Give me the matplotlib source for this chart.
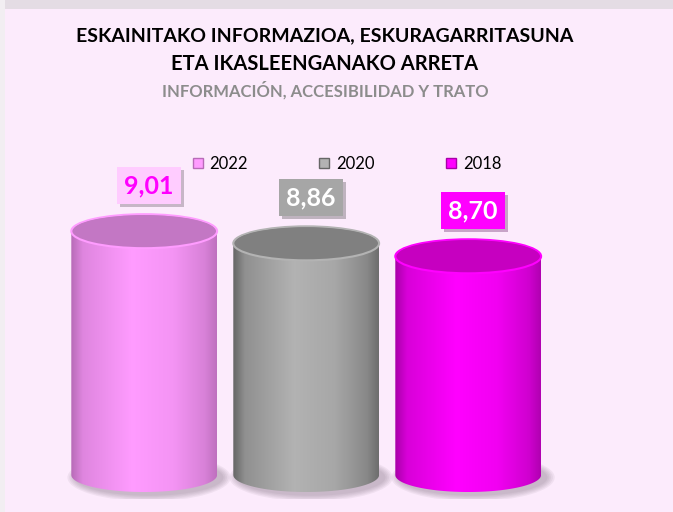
import numpy as np
import matplotlib
matplotlib.use("Agg")
import matplotlib.pyplot as plt
from matplotlib.patches import Ellipse, Polygon, Patch, Rectangle
import matplotlib.patheffects as pe

plt.rcParams['font.family'] = ['Lato', 'DejaVu Sans']

# data
years = ["2022", "2020", "2018"]
values = [9.01, 8.86, 8.70]
labels = ["9,01", "8,86", "8,70"]

# colours per bar: dark edge, light middle, top face, label box, label text
dark = [(0.72, 0.42, 0.72), (0.40, 0.40, 0.40), (0.66, 0.0, 0.66)]
light = [(1.0, 0.61, 1.0), (0.70, 0.70, 0.70), (1.0, 0.0, 1.0)]
tops = ["#c377c4", "#808080", "#c600c0"]
box_fc = ["#ffccff", "#a6a6a6", "#ff00ff"]
box_tc = ["#ff00ff", "white", "white"]

bg = "#fcebfc"
base = 6.0
w = 0.90
ry = 0.21

fig = plt.figure(figsize=(6.73, 5.12), dpi=100)
fig.patch.set_facecolor(bg)

# light strip at the top / left edge (photo behind the slide)
fig.patches.append(Rectangle((0, 1 - 9 / 512), 1, 9 / 512, transform=fig.transFigure,
                             facecolor="#e4dce4", edgecolor="none", zorder=0))
fig.patches.append(Rectangle((0, 0), 5 / 673, 1, transform=fig.transFigure,
                             facecolor="#f2eef2", edgecolor="none", zorder=0))

ax = fig.add_axes([47 / 673, 12.7 / 512, 567 / 673, 324 / 512])
ax.set_facecolor(bg)
ax.set_xlim(-0.6, 2.9)
ax.set_ylim(5.7, 9.7)
ax.axis("off")

t = np.linspace(0, 1, 200)
f = np.interp(t, [0, 0.08, 0.42, 0.7, 0.92, 1], [0.0, 0.55, 1.0, 0.85, 0.45, 0.1])

for i, v in enumerate(values):
    x0, x1 = i - w / 2, i + w / 2

    # soft shadow under the cylinder
    for k in range(5):
        ax.add_patch(Ellipse((i + 0.03, base - 0.03), w * (1.02 + 0.025 * k),
                             2 * ry * (1.08 + 0.08 * k), facecolor="#6a5a6a",
                             edgecolor="none", alpha=0.08, zorder=1))

    # body outline: sides + lower half of bottom ellipse
    th = np.linspace(np.pi, 2 * np.pi, 60)
    arc = np.column_stack([i + w / 2 * np.cos(th), base + ry * np.sin(th)])
    verts = np.vstack([[x0, v], arc, [x1, v]])
    body = Polygon(verts, closed=True, facecolor="none", edgecolor="none", zorder=2)
    ax.add_patch(body)

    cols = np.array(dark[i])[None, :] + f[:, None] * (np.array(light[i]) - np.array(dark[i]))[None, :]
    img = ax.imshow(cols[None, :, :], extent=(x0, x1, base - ry, v), aspect="auto",
                    interpolation="bilinear", zorder=2)
    img.set_clip_path(body)

    # top face
    ax.add_patch(Ellipse((i, v), w, 2 * ry, facecolor=tops[i],
                         edgecolor=light[i], linewidth=1.5, zorder=3))
    ax.add_patch(Ellipse((i, v + 0.01), w * 0.97, 2 * ry * 0.9, facecolor=tops[i],
                         edgecolor="none", zorder=3))

    # value label
    txt = ax.text(i + 0.03, v + 0.56, labels[i], ha="center", va="center",
                  fontsize=18, fontweight="bold", color=box_tc[i], zorder=5,
                  bbox=dict(boxstyle="square,pad=0.28", facecolor=box_fc[i], edgecolor="none"))
    txt.get_bbox_patch().set_path_effects([pe.SimplePatchShadow(offset=(2, -2), alpha=0.3),
                                           pe.Normal()])

# legend
handles = [Patch(facecolor=light[i], edgecolor=dark[i], linewidth=1) for i in range(3)]
fig.legend(handles, years, loc="center", bbox_to_anchor=(347 / 673, 1 - 164 / 512),
           ncol=3, frameon=False, fontsize=12, handlelength=0.6, handleheight=0.6,
           handletextpad=0.4, columnspacing=4.3)

# titles
fig.text(325 / 673, 1 - 36 / 512, "ESKAINITAKO INFORMAZIOA, ESKURAGARRITASUNA",
         ha="center", va="center", fontsize=14, fontweight="bold", color="black")
fig.text(325 / 673, 1 - 64 / 512, "ETA IKASLEENGANAKO ARRETA",
         ha="center", va="center", fontsize=14.5, fontweight="bold", color="black")
fig.text(325 / 673, 1 - 90 / 512, "INFORMACIÓN, ACCESIBILIDAD Y TRATO",
         ha="center", va="center", fontsize=12, fontweight="bold", color="#8c8c8c")

fig.savefig("out.png", dpi=100, facecolor=fig.get_facecolor())
